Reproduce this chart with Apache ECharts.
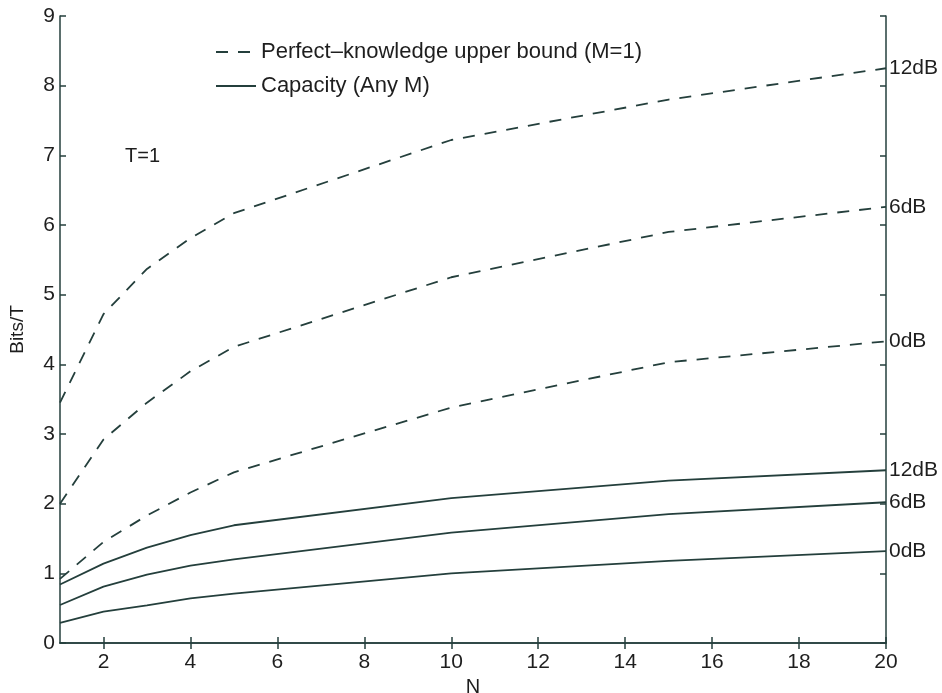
<!DOCTYPE html>
<html>
<head>
<meta charset="utf-8">
<script src="https://cdn.jsdelivr.net/npm/echarts@6/dist/echarts.min.js"></script>
<style>html,body{margin:0;padding:0;background:#fff;}#c{width:942px;height:693px;}</style>
</head>
<body>
<div id="c"></div>
<script>
const N = [1, 2, 3, 4, 5, 10, 15, 20];
const ub0 = [0.92, 1.45, 1.83, 2.16, 2.45, 3.38, 4.03, 4.33];
const ub6 = [2.0, 2.92, 3.45, 3.90, 4.25, 5.25, 5.90, 6.26];
const ub12 = [3.45, 4.72, 5.37, 5.81, 6.17, 7.22, 7.80, 8.25];
const cap0 = [0.29, 0.45, 0.54, 0.64, 0.71, 1.00, 1.18, 1.32];
const cap6 = [0.545, 0.81, 0.98, 1.11, 1.20, 1.585, 1.85, 2.02];
const cap12 = [0.84, 1.14, 1.37, 1.55, 1.69, 2.08, 2.33, 2.48];
const xTicks = [2, 4, 6, 8, 10, 12, 14, 16, 18, 20];
const snrLabels = ['0dB', '6dB', '12dB'];
const ubName = 'Perfect\u2013knowledge upper bound (M=1)';
const capName = 'Capacity (Any M)';

const lineColor = '#243f3c';
const textColor = '#1e1e1e';
const font = '"Liberation Sans", Arial, Helvetica, sans-serif';
const dashPattern = [12, 10];

function mk(name, vals, dashed, lbl) {
  return {
    name: name,
    type: 'line',
    data: N.map((n, i) => [n, vals[i]]),
    symbol: 'none',
    smooth: false,
    silent: true,
    animation: false,
    lineStyle: { color: lineColor, width: 1.8, type: dashed ? dashPattern : 'solid' },
    itemStyle: { color: lineColor },
    endLabel: {
      show: true, formatter: lbl, color: textColor, fontSize: 21,
      fontFamily: font, distance: 3
    }
  };
}

const chart = echarts.init(document.getElementById('c'), null, { renderer: 'canvas' });
const axisCommon = {
  axisLine: { show: true, lineStyle: { color: lineColor, width: 1.5 } },
  splitLine: { show: false }
};
chart.setOption({
  animation: false,
  backgroundColor: '#fff',
  grid: { left: 60, right: 56, top: 16, bottom: 50, containLabel: false, outerBoundsMode: 'none' },
  legend: {
    orient: 'vertical', left: 210, top: 36, itemGap: 12,
    itemWidth: 40, itemHeight: 10,
    itemStyle: { opacity: 0 },
    data: [ubName, capName],
    textStyle: { color: textColor, fontSize: 22, fontFamily: font },
    selectedMode: false
  },
  xAxis: [
    Object.assign({}, axisCommon, {
      type: 'value', min: 1, max: 20, position: 'bottom',
      name: 'N', nameLocation: 'middle', nameGap: 27,
      nameTextStyle: { color: textColor, fontSize: 20, fontFamily: font },
      axisTick: { show: true, inside: true, length: 6, customValues: xTicks, lineStyle: { color: lineColor, width: 1.5 } },
      axisLabel: { show: true, customValues: xTicks, color: textColor, fontSize: 21, fontFamily: font, margin: 9 }
    }),
    Object.assign({}, axisCommon, {
      type: 'value', min: 1, max: 20, position: 'top',
      axisTick: { show: true, inside: true, length: 6, customValues: xTicks, lineStyle: { color: lineColor, width: 1.5 } },
      axisLabel: { show: false }
    })
  ],
  yAxis: [
    Object.assign({}, axisCommon, {
      type: 'value', min: 0, max: 9, interval: 1, position: 'left',
      name: 'Bits/T', nameLocation: 'middle', nameGap: 33, nameRotate: 90,
      nameTextStyle: { color: textColor, fontSize: 19, fontFamily: font },
      axisTick: { show: true, inside: true, length: 6, lineStyle: { color: lineColor, width: 1.5 } },
      axisLabel: { show: true, color: textColor, fontSize: 21, fontFamily: font, margin: 5 }
    }),
    Object.assign({}, axisCommon, {
      type: 'value', min: 0, max: 9, interval: 1, position: 'right',
      axisTick: { show: true, inside: true, length: 6, lineStyle: { color: lineColor, width: 1.5 } },
      axisLabel: { show: false }
    })
  ],
  graphic: [{
    type: 'text', left: 125, top: 146,
    style: { text: 'T=1', fill: textColor, font: '20px ' + font }
  }],
  series: [
    mk(ubName, ub12, true, snrLabels[2]),
    mk(ubName, ub6, true, snrLabels[1]),
    mk(ubName, ub0, true, snrLabels[0]),
    mk(capName, cap12, false, snrLabels[2]),
    mk(capName, cap6, false, snrLabels[1]),
    mk(capName, cap0, false, snrLabels[0])
  ]
});
</script>
</body>
</html>
